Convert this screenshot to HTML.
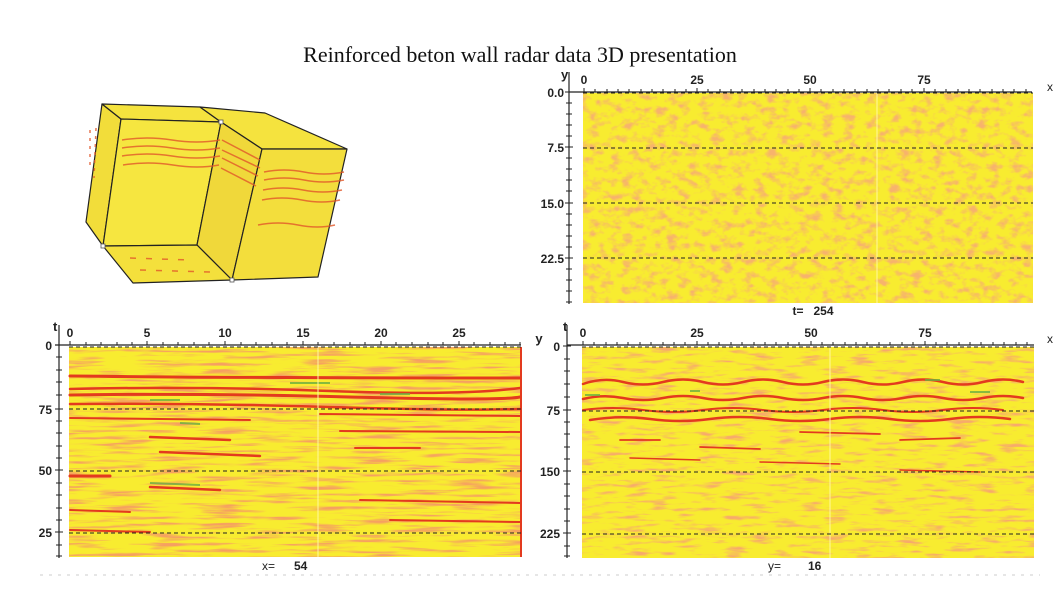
<!DOCTYPE html>
<html><head><meta charset="utf-8"><style>
html,body{margin:0;padding:0;background:#fff;width:1056px;height:612px;overflow:hidden}
svg text{font-family:"Liberation Sans",sans-serif;font-weight:bold;font-size:12px;fill:#222}
</style></head><body>
<svg width="1056" height="612" viewBox="0 0 1056 612" xmlns="http://www.w3.org/2000/svg">
<defs>
<filter id="nz" x="0" y="0" width="100%" height="100%">
<feTurbulence type="fractalNoise" baseFrequency="0.09 0.14" numOctaves="3" seed="3" result="t"/>
<feColorMatrix in="t" type="matrix" values="0 0 0 0 0.93  0 0 0 0 0.45  0 0 0 0 0.15  0 0 0 -3 1.6"/>
</filter>
<filter id="nz2" x="0" y="0" width="100%" height="100%">
<feTurbulence type="fractalNoise" baseFrequency="0.02 0.3" numOctaves="3" seed="7" result="t"/>
<feColorMatrix in="t" type="matrix" values="0 0 0 0 0.92  0 0 0 0 0.35  0 0 0 0 0.12  0 0 0 -3.5 1.8"/>
</filter>
<filter id="nz3" x="0" y="0" width="100%" height="100%">
<feTurbulence type="fractalNoise" baseFrequency="0.04 0.25" numOctaves="3" seed="11" result="t"/>
<feColorMatrix in="t" type="matrix" values="0 0 0 0 0.93  0 0 0 0 0.4  0 0 0 0 0.15  0 0 0 -3.5 1.7"/>
</filter>
</defs>

<text x="520" y="62" text-anchor="middle" style="font-family:'Liberation Serif',serif;font-weight:normal;font-size:22px;fill:#111">Reinforced beton wall radar data 3D presentation</text>

<!-- 3D cube -->
<g stroke="#222" stroke-width="1.2" stroke-linejoin="round">
<polygon points="102,104 121,119 103,246 86,222" fill="#f2dd3a"/>
<polygon points="102,104 200,107 221,122 121,119" fill="#f5e33e"/>
<polygon points="200,107 265,113 347,149 262,149 221,122" fill="#f5e33e"/>
<polygon points="121,119 221,122 197,245 103,246" fill="#f6e640"/>
<polygon points="221,122 262,149 232,280 197,245" fill="#f0d83a"/>
<polygon points="262,149 347,149 318,277 232,280" fill="#f3de3c"/>
<polygon points="103,246 197,245 232,280 133,283" fill="#f4e03c"/>
</g>
<g stroke="#e2582a" stroke-width="1.5" fill="none" opacity="0.8">
<path d="M122,140 Q147,136 172,140 T220,140"/><path d="M122,148 Q147,144 172,148 T220,148"/><path d="M122,156 Q147,152 172,156 T220,156"/><path d="M123,165 Q148,161 173,165 T219,165"/>
<path d="M222,140 L260,160"/><path d="M222,150 L260,168"/><path d="M222,158 L258,176"/><path d="M221,168 L256,186"/>
<path d="M264,172 Q284,168 304,172 T344,172"/><path d="M264,180 Q284,176 304,180 T344,180"/><path d="M263,190 Q283,186 303,190 T342,190"/><path d="M262,200 Q282,196 302,200 T340,200"/><path d="M258,225 Q278,221 298,225 T335,225"/>
<path d="M90,130 l0,40" stroke-dasharray="3 5"/><path d="M96,128 l-2,50" stroke-dasharray="3 5"/>
<path d="M130,258 l60,2" stroke-dasharray="6 10"/><path d="M140,270 l70,2" stroke-dasharray="6 10"/>
</g>
<g fill="#fff" stroke="#555" stroke-width="0.8"><rect x="219" y="120" width="4" height="4"/><rect x="101" y="244" width="4" height="4"/><rect x="230" y="278" width="4" height="4"/></g>

<!-- Top-right panel -->
<rect x="583" y="93" width="450" height="210" fill="#f8ec30"/>
<rect x="583" y="93" width="450" height="210" filter="url(#nz)"/>
<line x1="877" y1="93" x2="877" y2="303" stroke="#fff8a0" stroke-width="1"/>
<g stroke="#222" stroke-dasharray="4 3" stroke-width="1"><line x1="583" y1="93" x2="1033" y2="93"/><line x1="583" y1="148" x2="1033" y2="148"/><line x1="583" y1="203" x2="1033" y2="203"/><line x1="583" y1="258" x2="1033" y2="258"/></g>

<!-- Bottom-left panel -->
<rect x="69" y="347" width="452" height="210" fill="#f8ec30"/>
<rect x="69" y="347" width="452" height="210" filter="url(#nz2)"/>
<g stroke="#e33a1e" fill="none" stroke-linecap="round">
<path d="M70,376 Q250,378 520,378" stroke-width="3"/>
<path d="M70,389 Q200,386 330,391 T520,388" stroke-width="2.5"/>
<path d="M70,395 Q200,393 350,397 T520,397" stroke-width="3"/>
<path d="M70,404 Q200,403 330,407 T520,409" stroke-width="2.5"/>
<path d="M70,418 L250,420" stroke-width="2"/><path d="M320,414 L520,416" stroke-width="2"/>
<path d="M150,437 L230,440" stroke-width="2.5"/><path d="M340,431 L520,432" stroke-width="2"/>
<path d="M160,452 L260,456" stroke-width="2.5"/><path d="M355,448 L420,448" stroke-width="2"/>
<path d="M70,476 L110,476" stroke-width="3"/><path d="M150,487 L220,490" stroke-width="2.5"/>
<path d="M360,500 L520,503" stroke-width="2"/><path d="M70,510 L130,512" stroke-width="2"/>
<path d="M390,520 L520,522" stroke-width="2"/><path d="M70,530 L150,532" stroke-width="2"/>
</g>
<g stroke="#6ab040" fill="none" stroke-width="2" opacity="0.8">
<path d="M290,383 L330,383"/><path d="M150,400 L180,400"/><path d="M180,423 L200,424"/><path d="M150,483 L200,485"/><path d="M380,394 L410,394"/>
</g>
<line x1="521" y1="347" x2="521" y2="557" stroke="#e33a1e" stroke-width="2"/>
<line x1="318" y1="347" x2="318" y2="557" stroke="#fff8a0" stroke-width="1"/>
<g stroke="#222" stroke-dasharray="4 3" stroke-width="1"><line x1="69" y1="347" x2="521" y2="347"/><line x1="69" y1="409" x2="521" y2="409"/><line x1="69" y1="471" x2="521" y2="471"/><line x1="69" y1="533" x2="521" y2="533"/></g>

<!-- Bottom-right panel -->
<rect x="582" y="347" width="452" height="211" fill="#f8ec30"/>
<rect x="582" y="347" width="452" height="211" filter="url(#nz3)"/>
<g stroke="#e33a1e" fill="none" stroke-linecap="round" stroke-width="2.5">
<path d="M583,384 Q603,377 623,382 T663,382 T703,382 T743,382 T783,382 T823,382 T863,382 T903,382 T943,382 T983,382 T1023,382"/>
<path d="M583,399 Q603,394 623,398 T663,398 T703,398 T743,398 T783,398 T823,398 T863,398 T903,398 T943,398 T983,398 T1023,398"/>
<path d="M583,410 Q613,406 643,410 T703,410 T763,410 T823,410 T883,410 T943,410 T1003,410" stroke-width="2"/>
<path d="M590,420 Q620,415 650,419 T710,419 T770,419 T830,419 T890,419 T950,419 T1010,419"/>
<path d="M620,440 L660,440 M700,447 L760,449 M800,432 L880,434 M900,440 L960,438" stroke-width="1.8"/>
<path d="M630,458 L700,460 M760,462 L840,464 M900,470 L980,472" stroke-width="1.5"/>
</g>
<g stroke="#6ab040" fill="none" stroke-width="2" opacity="0.8"><path d="M585,395 L600,395 M690,391 L700,391 M925,380 L940,380 M970,392 L990,392"/></g>
<line x1="830" y1="347" x2="830" y2="558" stroke="#fff8a0" stroke-width="1"/>
<g stroke="#222" stroke-dasharray="4 3" stroke-width="1"><line x1="582" y1="347" x2="1034" y2="347"/><line x1="582" y1="411" x2="1034" y2="411"/><line x1="582" y1="472" x2="1034" y2="472"/><line x1="582" y1="534" x2="1034" y2="534"/></g>

<!-- Axes -->
<g stroke="#222" stroke-width="1.2" fill="none">
<line x1="569" y1="92" x2="1032" y2="92"/><line x1="569" y1="72" x2="569" y2="304"/>
<line x1="55" y1="345" x2="521" y2="345"/><line x1="59" y1="325" x2="59" y2="558"/>
<line x1="567" y1="345" x2="1034" y2="345"/><line x1="567" y1="325" x2="567" y2="558"/>
</g>
<g stroke="#222" stroke-width="1">
<path d="M584,92v-4M595,92v-3M607,92v-3M618,92v-3M629,92v-3M641,92v-3M652,92v-3M663,92v-3M675,92v-3M686,92v-3M697,92v-4M708,92v-3M720,92v-3M731,92v-3M742,92v-3M754,92v-3M765,92v-3M776,92v-3M788,92v-3M799,92v-3M810,92v-4M821,92v-3M833,92v-3M844,92v-3M855,92v-3M867,92v-3M878,92v-3M889,92v-3M901,92v-3M912,92v-3M924,92v-4M935,92v-3M946,92v-3M958,92v-3M969,92v-3M980,92v-3M992,92v-3M1003,92v-3M1014,92v-3M1026,92v-3"/>
<path d="M565,92h8M566,103h6M566,114h6M566,125h6M566,136h6M565,147h8M566,158h6M566,169h6M566,180h6M566,191h6M565,203h8M566,214h6M566,225h6M566,236h6M566,247h6M565,258h8M566,269h6M566,280h6M566,291h6M566,302h6"/>
<path d="M70,345v-4M86,345v-3M101,345v-3M117,345v-3M132,345v-3M147,345v-4M163,345v-3M178,345v-3M194,345v-3M209,345v-3M225,345v-4M241,345v-3M256,345v-3M272,345v-3M287,345v-3M303,345v-4M318,345v-3M334,345v-3M350,345v-3M365,345v-3M381,345v-4M396,345v-3M412,345v-3M428,345v-3M443,345v-3M459,345v-4M474,345v-3M490,345v-3M505,345v-3M520,345v-3"/>
<path d="M55,345h8M56,357h6M56,370h6M56,382h6M56,395h6M55,409h8M56,421h6M56,433h6M56,446h6M56,458h6M55,470h8M56,483h6M56,495h6M56,508h6M56,520h6M55,532h8M56,545h6M56,556h6"/>
<path d="M583,345v-4M594,345v-3M606,345v-3M617,345v-3M628,345v-3M640,345v-3M651,345v-3M663,345v-3M674,345v-3M685,345v-3M697,345v-4M708,345v-3M719,345v-3M731,345v-3M742,345v-3M754,345v-3M765,345v-3M776,345v-3M788,345v-3M799,345v-3M811,345v-4M822,345v-3M833,345v-3M845,345v-3M856,345v-3M867,345v-3M879,345v-3M890,345v-3M902,345v-3M913,345v-3M925,345v-4M936,345v-3M947,345v-3M959,345v-3M970,345v-3M981,345v-3M993,345v-3M1004,345v-3M1016,345v-3M1027,345v-3"/>
<path d="M563,346h8M564,359h6M564,371h6M564,384h6M564,397h6M563,410h8M564,422h6M564,434h6M564,447h6M564,459h6M563,471h8M564,484h6M564,496h6M564,509h6M564,521h6M563,533h8M564,546h6M564,556h6"/>
</g>

<!-- Labels -->
<text x="561" y="79" style="font-size:13px">y</text>
<text x="584" y="84" text-anchor="middle">0</text><text x="697" y="84" text-anchor="middle">25</text><text x="810" y="84" text-anchor="middle">50</text><text x="924" y="84" text-anchor="middle">75</text>
<text x="1050" y="91" text-anchor="middle" style="font-weight:normal">x</text>
<text x="564" y="97" text-anchor="end">0.0</text><text x="564" y="152" text-anchor="end">7.5</text><text x="564" y="208" text-anchor="end">15.0</text><text x="564" y="263" text-anchor="end">22.5</text>
<text x="813" y="315" text-anchor="middle">t=&#160;&#160;&#160;254</text>

<text x="53" y="331" style="font-size:13px">t</text>
<text x="70" y="337" text-anchor="middle">0</text><text x="147" y="337" text-anchor="middle">5</text><text x="225" y="337" text-anchor="middle">10</text><text x="303" y="337" text-anchor="middle">15</text><text x="381" y="337" text-anchor="middle">20</text><text x="459" y="337" text-anchor="middle">25</text>
<text x="539" y="343" text-anchor="middle" style="font-size:13px">y</text>
<text x="52" y="350" text-anchor="end">0</text><text x="52" y="414" text-anchor="end">75</text><text x="52" y="475" text-anchor="end">50</text><text x="52" y="537" text-anchor="end">25</text>
<text x="262" y="570" style="font-weight:normal">x=</text><text x="294" y="570">54</text>

<text x="563" y="331" style="font-size:13px">t</text>
<text x="583" y="337" text-anchor="middle">0</text><text x="697" y="337" text-anchor="middle">25</text><text x="811" y="337" text-anchor="middle">50</text><text x="925" y="337" text-anchor="middle">75</text>
<text x="1050" y="343" text-anchor="middle" style="font-weight:normal">x</text>
<text x="560" y="351" text-anchor="end">0</text><text x="560" y="415" text-anchor="end">75</text><text x="560" y="476" text-anchor="end">150</text><text x="560" y="538" text-anchor="end">225</text>
<text x="768" y="570" style="font-weight:normal">y=</text><text x="808" y="570">16</text>
<line x1="40" y1="575" x2="1040" y2="575" stroke="#ddd" stroke-dasharray="3 6" stroke-width="1.5"/>
</svg>
</body></html>
